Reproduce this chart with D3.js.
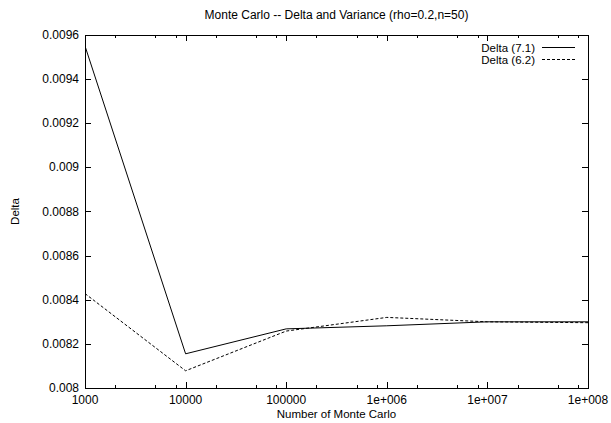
<!DOCTYPE html>
<html>
<head>
<meta charset="UTF-8" />
<script src="https://d3js.org/d3.v7.min.js"></script>
<style>
  body { margin: 0; background: #fff; }
  svg { font-family: "Liberation Sans", Arial, sans-serif; }
  text { fill: #000; font-size: 12px; }
</style>
</head>
<body>
<div id="chart"></div>
<script>
// data
const samples = [1e3, 1e4, 1e5, 1e6, 1e7, 1e8];
const delta71 = [0.00955, 0.008155, 0.008268, 0.008282, 0.008300, 0.008300];
const delta62 = [0.008428, 0.008078, 0.008258, 0.008320, 0.008300, 0.008296];
const seriesNames = ["Delta (7.1)", "Delta (6.2)"];
const xTicks = [1e3, 1e4, 1e5, 1e6, 1e7, 1e8];
const xTickLabels = ["1000", "10000", "100000", "1e+006", "1e+007", "1e+008"];
const yTicks = [0.008, 0.0082, 0.0084, 0.0086, 0.0088, 0.009, 0.0092, 0.0094, 0.0096];
const yTickLabels = ["0.008", "0.0082", "0.0084", "0.0086", "0.0088", "0.009", "0.0092", "0.0094", "0.0096"];

const W = 611, H = 423;
const margin = { top: 35, right: 23, bottom: 35, left: 85 };
const width = W - margin.left - margin.right,
      height = H - margin.top - margin.bottom;

const svg = d3.select("#chart").append("svg")
    .attr("width", W).attr("height", H);

const g = svg.append("g")
    .attr("transform", `translate(${margin.left},${margin.top})`);

const x = d3.scaleLog().domain([1e3, 1e8]).range([0, width]);
const y = d3.scaleLinear().domain([0.008, 0.0096]).range([height, 0]);

// minor ticks on the log axis
const minor = [];
for (let d = 1e3; d < 1e8; d *= 10) [2, 5, 8].forEach(m => minor.push(d * m));

// ticks (pointing inward, mirrored on all sides)
const tk = g.append("g").attr("stroke", "#000").attr("stroke-width", 1);
xTicks.forEach(v => {
  const px = Math.round(x(v)) + 0.5;
  tk.append("line").attr("x1", px).attr("x2", px).attr("y1", height).attr("y2", height - 6);
  tk.append("line").attr("x1", px).attr("x2", px).attr("y1", 0).attr("y2", 6);
});
minor.forEach(v => {
  const px = Math.round(x(v)) + 0.5;
  tk.append("line").attr("x1", px).attr("x2", px).attr("y1", height).attr("y2", height - 3);
  tk.append("line").attr("x1", px).attr("x2", px).attr("y1", 0).attr("y2", 3);
});
yTicks.forEach(v => {
  const py = Math.round(y(v)) + 0.5;
  tk.append("line").attr("x1", 0).attr("x2", 6).attr("y1", py).attr("y2", py);
  tk.append("line").attr("x1", width).attr("x2", width - 6).attr("y1", py).attr("y2", py);
});

// tick labels
g.selectAll(".xl").data(xTicks).enter().append("text")
    .attr("x", d => x(d)).attr("y", height + 16)
    .attr("text-anchor", "middle")
    .text((d, i) => xTickLabels[i]);

g.selectAll(".yl").data(yTicks).enter().append("text")
    .attr("x", -6).attr("y", d => y(d) + 4)
    .attr("text-anchor", "end")
    .text((d, i) => yTickLabels[i]);

// series
const line = d3.line().x(d => x(d[0])).y(d => y(d[1]));
g.append("clipPath").attr("id", "clip")
    .append("rect").attr("width", width).attr("height", height);

g.append("path")
    .datum(samples.map((s, i) => [s, delta71[i]]))
    .attr("clip-path", "url(#clip)")
    .attr("fill", "none").attr("stroke", "#000").attr("stroke-width", 1)
    .attr("d", line);

g.append("path")
    .datum(samples.map((s, i) => [s, delta62[i]]))
    .attr("clip-path", "url(#clip)")
    .attr("fill", "none").attr("stroke", "#000").attr("stroke-width", 1)
    .attr("stroke-dasharray", "3,2")
    .attr("d", line);

// frame
g.append("rect").attr("x", 0.5).attr("y", 0.5)
    .attr("width", width).attr("height", height)
    .attr("fill", "none").attr("stroke", "#000").attr("stroke-width", 1);

// legend
const legend = g.append("g");
seriesNames.forEach((name, i) => {
  const ly = 12.5 + i * 12;
  legend.append("text")
      .attr("x", width - 53).attr("y", ly + 4)
      .attr("text-anchor", "end")
      .style("font-size", "11.5px")
      .text(name);
  legend.append("line")
      .attr("x1", width - 46).attr("x2", width - 13)
      .attr("y1", ly).attr("y2", ly)
      .attr("stroke", "#000").attr("stroke-width", 1)
      .attr("stroke-dasharray", i === 1 ? "3,2" : null);
});

// titles
svg.append("text")
    .attr("x", margin.left + width / 2).attr("y", 19)
    .attr("text-anchor", "middle")
    .style("font-size", "12px")
    .text("Monte Carlo -- Delta and Variance (rho=0.2,n=50)");

svg.append("text")
    .attr("x", margin.left + width / 2).attr("y", 418)
    .attr("text-anchor", "middle")
    .style("font-size", "11.5px")
    .text("Number of Monte Carlo");

svg.append("text")
    .attr("transform", `translate(19,${margin.top + height / 2}) rotate(-90)`)
    .attr("text-anchor", "middle")
    .style("font-size", "11.5px")
    .text("Delta");
</script>
</body>
</html>
